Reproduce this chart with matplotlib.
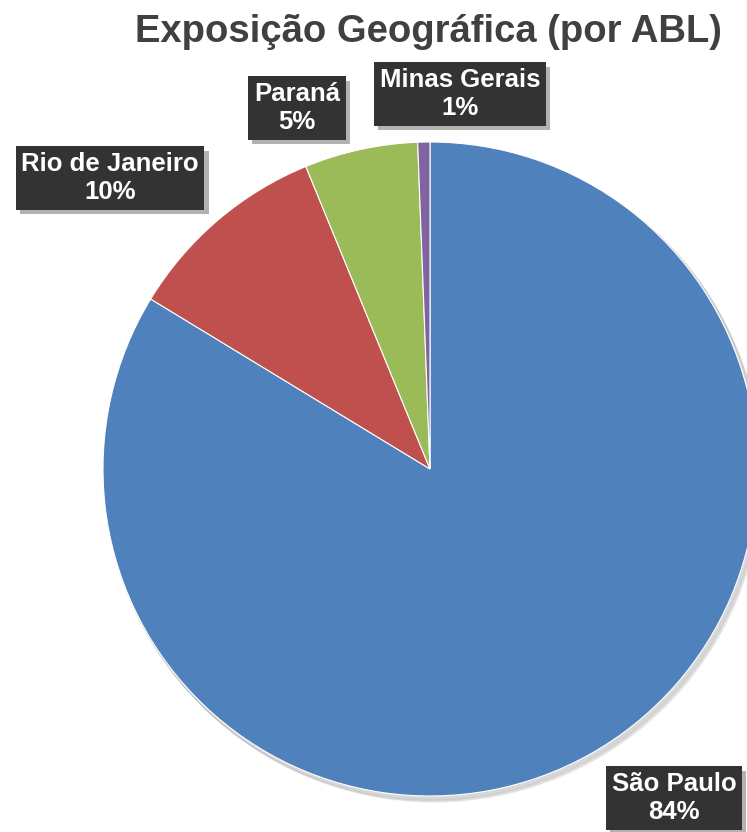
import matplotlib.pyplot as plt
import matplotlib.patheffects as pe

# data
regioes = ["São Paulo", "Rio de Janeiro", "Paraná", "Minas Gerais"]
abl = [83.7, 10.1, 5.6, 0.6]
rotulos = ["84%", "10%", "5%", "1%"]
cores = ["#4F81BD", "#C0504D", "#9BBB59", "#8064A2"]

# label box centres in pixels (x, y from top)
pos_rotulo = [(674, 798), (110, 178), (297, 108), (460, 94)]

plt.rcParams["font.family"] = ["Liberation Sans", "DejaVu Sans"]

W, H = 747, 832
fig = plt.figure(figsize=(W / 100, H / 100), dpi=100)
ax = fig.add_axes([0, 0, 1, 1])
ax.set_xlim(0, W)
ax.set_ylim(0, H)
ax.set_aspect("equal")
ax.axis("off")

cx, cy, r = 430, H - 469, 327

# soft shadow behind pie
for k, a in enumerate([0.05, 0.05, 0.06]):
    sh = plt.Circle((cx + 2 + k, cy - 3 - k), r + 1, color="black", alpha=a, zorder=0)
    ax.add_patch(sh)

ax.pie(abl, colors=cores, startangle=90, counterclock=False,
       center=(cx, cy), radius=r, frame=True,
       wedgeprops=dict(edgecolor="white", linewidth=0.8))
ax.set_xlim(0, W)
ax.set_ylim(0, H)
ax.axis("off")

for nome, rot, (x, y) in zip(regioes, rotulos, pos_rotulo):
    t = ax.text(x, H - y, nome + "\n" + rot, ha="center", va="center",
                fontsize=18.5, fontweight="bold", color="white", linespacing=1.2,
                zorder=5,
                bbox=dict(boxstyle="square,pad=0.22", facecolor="#333333",
                          edgecolor="#333333", linewidth=0))
    t.get_bbox_patch().set_path_effects([
        pe.SimplePatchShadow(offset=(3, -3), shadow_rgbFace="black", alpha=0.3),
        pe.Normal()])

fig.text(0.573, 0.961, "Exposição Geográfica (por ABL)", ha="center", va="center",
         fontsize=27.5, fontweight="bold", color="#404040")

fig.savefig("out.png", dpi=100)
